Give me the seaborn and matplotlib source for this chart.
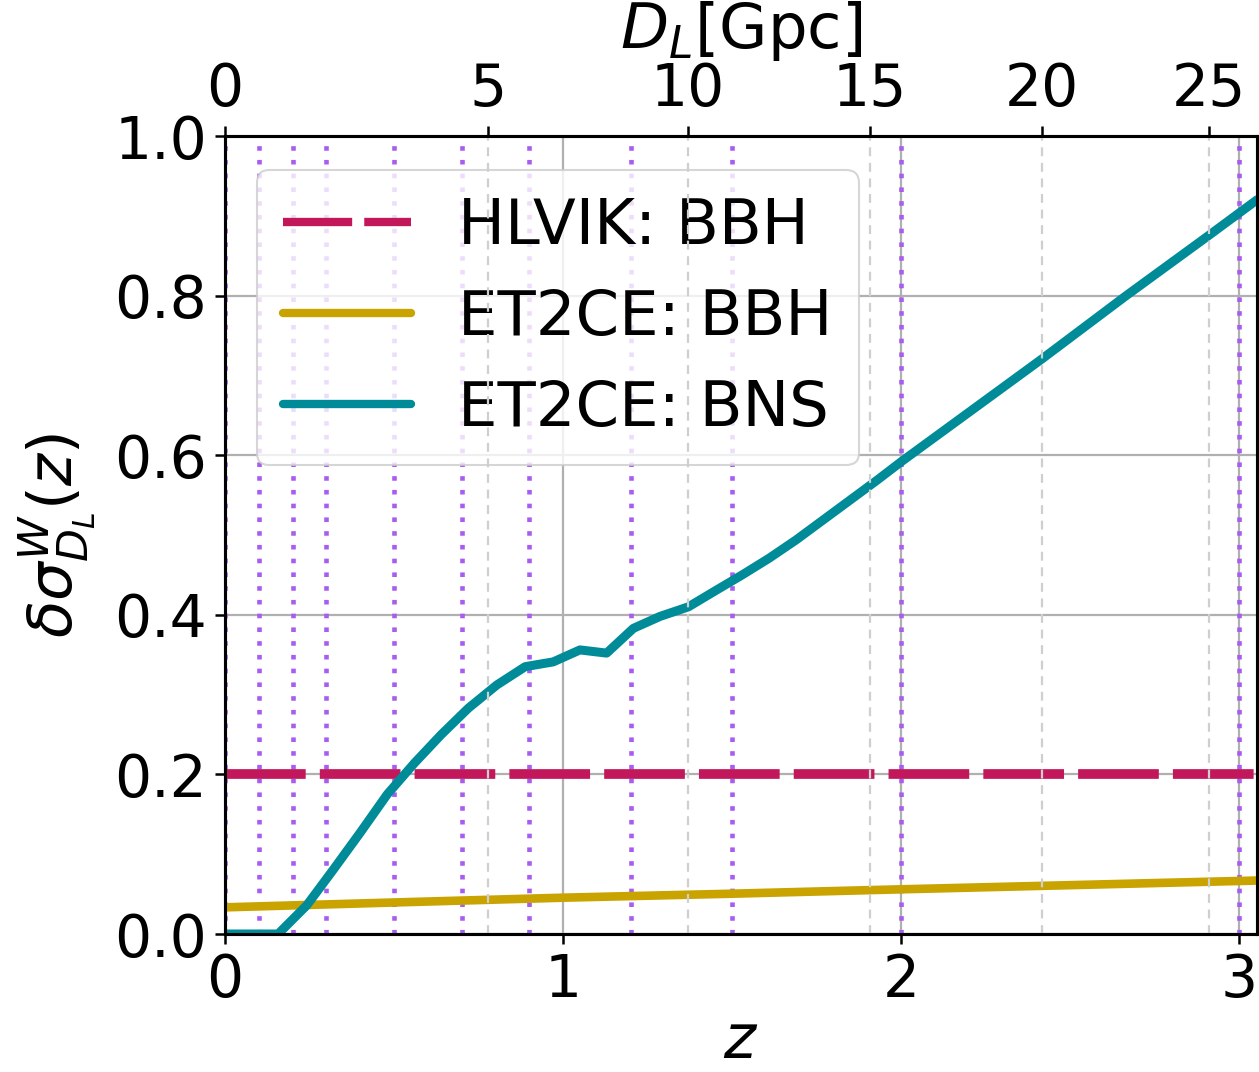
import numpy as np
import matplotlib
matplotlib.use("Agg")
import matplotlib.pyplot as plt
import seaborn as sns

# ---------------- data ----------------
z_hlvik = [0.0, 3.053]
hlvik_bbh = [0.2, 0.2]

z_et_bbh = [0.0, 0.5, 1.0, 1.5, 2.0, 2.5, 3.053]
et_bbh = [0.0334, 0.0395, 0.0455, 0.0505, 0.0560, 0.0612, 0.0670]

z_et_bns = [0.0, 0.079, 0.157, 0.242, 0.321, 0.40, 0.48, 0.56, 0.64, 0.72,
            0.804, 0.888, 0.971, 1.050, 1.129, 1.208, 1.287, 1.371, 1.45,
            1.53, 1.61, 1.69, 1.77, 1.85, 1.93, 2.001, 2.418, 2.663, 2.909, 3.053]
et_bns = [0.0, 0.0, 0.0, 0.036, 0.081, 0.127, 0.175, 0.214, 0.250, 0.283,
          0.312, 0.335, 0.341, 0.356, 0.352, 0.383, 0.398, 0.410, 0.430,
          0.450, 0.471, 0.494, 0.519, 0.544, 0.569, 0.592, 0.721, 0.799, 0.875, 0.920]

z_marks = [0.0, 0.1, 0.2, 0.3, 0.5, 0.7, 0.9, 1.2, 1.5, 2.0, 3.0]

x_ticks = [0, 1, 2, 3]
y_ticks = [0.0, 0.2, 0.4, 0.6, 0.8, 1.0]
top_tick_labels = ["0", "5", "10", "15", "20", "25"]
top_tick_z = [0.0, 0.778, 1.370, 1.908, 2.417, 2.911]

labels = ["HLVIK: BBH", "ET2CE: BBH", "ET2CE: BNS"]
colors = ["#c2185b", "#c9a300", "#008b99"]

# ---------------- figure ----------------
sns.set_theme(style="ticks")
plt.rcParams["font.family"] = ["DejaVu Sans"]
plt.rcParams["mathtext.fontset"] = "dejavusans"
plt.rcParams["text.color"] = "black"
plt.rcParams["axes.labelcolor"] = "black"
plt.rcParams["xtick.color"] = "black"
plt.rcParams["ytick.color"] = "black"

W, H = 1259, 1072
fig = plt.figure(figsize=(W / 100, H / 100), dpi=100)
ax = fig.add_axes([225 / W, 1 - 934 / H, 1032 / W, 798 / H])

ax.set_xlim(0, 3.053)
ax.set_ylim(0, 1)

# grid of the bottom axis
ax.set_xticks(x_ticks)
ax.set_yticks(y_ticks)
ax.set_yticklabels([f"{v:.1f}" for v in y_ticks])
ax.grid(True, color="#b0b0b0", lw=1.6, zorder=0)
ax.set_axisbelow(True)

# purple dotted redshift markers
for zm in z_marks:
    ax.axvline(zm, color="#a85cf0", lw=3.3, linestyle=(0, (1, 2.0)), zorder=2.6)

# data lines
sns.lineplot(x=z_hlvik, y=hlvik_bbh, ax=ax, color=colors[0], lw=7,
             linestyle=(0, (8.3, 1.45)), label=labels[0], zorder=3)
sns.lineplot(x=z_et_bbh, y=et_bbh, ax=ax, color=colors[1], lw=6.2,
             label=labels[1], zorder=3)
sns.lineplot(x=z_et_bns, y=et_bns, ax=ax, color=colors[2], lw=6.5,
             label=labels[2], zorder=3)

for sp in ax.spines.values():
    sp.set_linewidth(2.2)
    sp.set_color("black")
    sp.set_visible(True)
ax.tick_params(axis="both", which="major", labelsize=42, length=7, width=1.8,
               direction="out", color="black", labelcolor="black", pad=6)

ax.set_xlabel(r"$z$", fontsize=44, labelpad=2, color="black")
ax.set_ylabel(r"$\delta\sigma^{W}_{D_L}(z)$", fontsize=44, labelpad=12,
              color="black")

leg = ax.legend(loc="upper left", bbox_to_anchor=(0.031, 0.957),
                borderaxespad=0, fontsize=45, frameon=True, framealpha=0.8,
                edgecolor="#cccccc", fancybox=True, handlelength=2.05,
                borderpad=0.42, labelspacing=0.5, handletextpad=0.75)
leg.get_frame().set_linewidth(1.5)
for t in leg.get_texts():
    t.set_color("black")
for h in leg.get_lines():
    h.set_linewidth(6)

# top axis: luminosity distance
ax2 = ax.twiny()
ax2.set_xlim(ax.get_xlim())
ax2.set_xticks(top_tick_z)
ax2.set_xticklabels(top_tick_labels)
ax2.grid(True, axis="x", color="#cfcfcf", lw=1.6, linestyle=(0, (4, 3)))
ax2.tick_params(axis="x", labelsize=42, length=7, width=1.8, direction="out",
                color="black", labelcolor="black", pad=6)
ax2.set_xlabel(r"$D_L$[Gpc]", fontsize=45, labelpad=9, color="black")
for sp in ax2.spines.values():
    sp.set_linewidth(2.2)
    sp.set_color("black")

fig.savefig("out.png", dpi=100, facecolor="white")
